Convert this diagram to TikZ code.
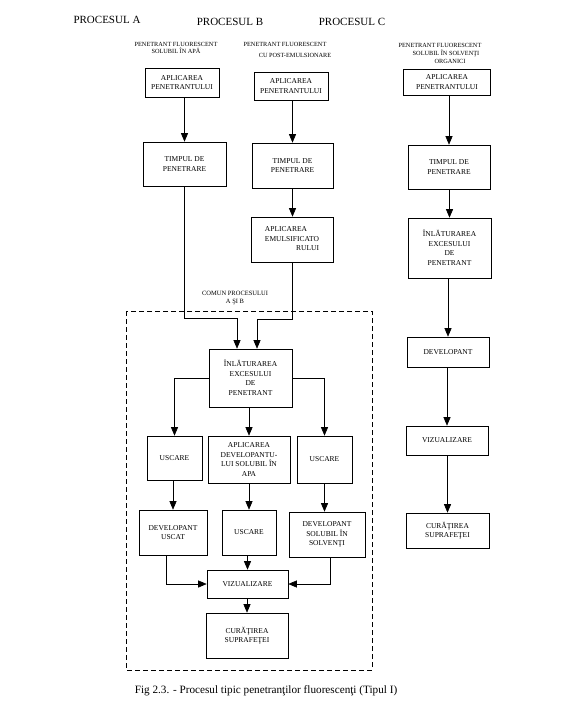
\documentclass[tikz,border=0pt]{standalone}
\usepackage{fontspec}
\setmainfont{Liberation Serif}
\usetikzlibrary{arrows.meta}
\begin{document}
\begin{tikzpicture}[x=1pt,y=-1pt,
  box/.style={draw,line width=0.6pt,align=center,inner sep=0pt,
    font=\fontsize{7.5}{9.5}\selectfont},
  sub/.style={inner sep=0pt,font=\fontsize{6.3}{7.5}\selectfont},
  ttl/.style={inner sep=0pt,font=\fontsize{11}{13}\selectfont},
  arr/.style={line width=0.6pt,-{Triangle[length=8.5pt,width=7pt]}},
  ln/.style={line width=0.6pt}]
\useasboundingbox (0,0) rectangle (574,714);
% titles
\node[ttl] (tA) at (107,20) {PROCESUL A};
\node[ttl] (tB) at (230,22) {PROCESUL B};
\node[ttl] (tC) at (352,22) {PROCESUL C};
% subtitles
\node[sub,align=center] (sA) at (176,48) {PENETRANT FLUORESCENT\\SOLUBIL ÎN APĂ};
\node[sub] (sB1) at (285,44) {PENETRANT FLUORESCENT};
\node[sub] (sB2) at (295,55) {CU POST-EMULSIONARE};
\node[sub] (sC1) at (440,45) {PENETRANT FLUORESCENT};
\node[sub] (sC2) at (446,53) {SOLUBIL ÎN SOLVENŢI};
\node[sub] (sC3) at (450,61) {ORGANICI};
% column A
\node[box,minimum width=74pt,minimum height=29pt] (A1) at (182,82.5) {APLICAREA\\PENETRANTULUI};
\node[box,minimum width=83pt,minimum height=44pt] (A2) at (184.5,164) {TIMPUL DE\\PENETRARE};
% column B
\node[box,minimum width=74pt,minimum height=28pt] (B1) at (291,86) {APLICAREA\\PENETRANTULUI};
\node[box,minimum width=81pt,minimum height=45pt] (B2) at (292.5,165.5) {TIMPUL DE\\PENETRARE};
\node[box,minimum width=82pt,minimum height=45pt] (B3) at (292,239.5)
  {\begin{tabular}{@{}l@{}}APLICAREA\\EMULSIFICATO\\\multicolumn{1}{@{}r@{}}{RULUI}\end{tabular}};
% common
\node[sub,align=center,font=\fontsize{6.5}{8.5}\selectfont] (com) at (235,298) {COMUN PROCESULUI\\A ŞI B};
\draw[ln,dashed,dash pattern=on 5pt off 3pt] (126,311) rectangle (372,670);
\node[box,minimum width=83pt,minimum height=58pt] (C1) at (250.5,378) {ÎNLĂTURAREA\\EXCESULUI\\DE\\PENETRANT};
\node[box,minimum width=55pt,minimum height=44pt] (L2) at (174.5,458) {USCARE};
\node[box,minimum width=82pt,minimum height=47pt] (M2) at (249,459.5) {APLICAREA\\DEVELOPANTU-\\LUI SOLUBIL ÎN\\APA};
\node[box,minimum width=55pt,minimum height=47pt] (R2c) at (324.5,459.5) {USCARE};
\node[box,minimum width=68pt,minimum height=45pt] (L3) at (173,532.5) {DEVELOPANT\\USCAT};
\node[box,minimum width=54pt,minimum height=45pt] (M3) at (249,532.5) {USCARE};
\node[box,minimum width=76pt,minimum height=45pt] (R3c) at (327,534.5) {DEVELOPANT\\SOLUBIL ÎN\\SOLVENŢI};
\node[box,minimum width=81pt,minimum height=28pt] (VIZ) at (247.5,584) {VIZUALIZARE};
\node[box,minimum width=82pt,minimum height=45pt] (CUR) at (247,635.5) {CURĂŢIREA\\SUPRAFEŢEI};
% column C
\node[box,minimum width=87pt,minimum height=26pt] (P1) at (447,82) {APLICAREA\\PENETRANTULUI};
\node[box,minimum width=82pt,minimum height=44pt] (P2) at (449,167) {TIMPUL DE\\PENETRARE};
\node[box,minimum width=83pt,minimum height=60pt] (P3) at (449.5,248) {ÎNLĂTURAREA\\EXCESULUI\\DE\\PENETRANT};
\node[box,minimum width=82pt,minimum height=30pt] (P4) at (448,352) {DEVELOPANT};
\node[box,minimum width=82pt,minimum height=29pt] (P5) at (447,440.5) {VIZUALIZARE};
\node[box,minimum width=83pt,minimum height=35pt] (P6) at (447.5,530.5) {CURĂŢIREA\\SUPRAFEŢEI};
% caption
\node[inner sep=0pt,font=\fontsize{11.2}{13}\selectfont] (cap) at (266,691)
  {Fig 2.3. - Procesul tipic penetranţilor fluorescenţi (Tipul I)};
% connectors A/B
\draw[arr] (A1.south -| A2.north) -- (A2.north);
\draw[arr] (B1.south -| B2.north) -- (B2.north);
\draw[arr] (B2.south) -- (B2.south |- B3.north);
\coordinate (jA) at (237,318);
\coordinate (jB) at (257,319);
\draw[arr] (A2.south) |- (jA) -- (jA |- C1.north);
\draw[arr] (B3.south) |- (jB) -- (jB |- C1.north);
\draw[arr] (C1.west) -| (L2.north);
\draw[arr] (C1.east) -| (R2c.north);
\draw[arr] (C1.south -| M2.north) -- (M2.north);
\draw[arr] (L2.south -| L3.north) -- (L3.north);
\draw[arr] (M2.south -| M3.north) -- (M3.north);
\draw[arr] (R2c.south) -- (R2c.south |- R3c.north);
\draw[arr] ([xshift=-7pt]L3.south) |- (VIZ.west);
\draw[arr] ([xshift=3pt]R3c.south) |- (VIZ.east);
\draw[arr] (M3.south -| VIZ.north) -- (VIZ.north);
\draw[arr] (VIZ.south -| CUR.north) -- (CUR.north);
% connectors C
\draw[arr] (P1.south -| P2.north) -- (P2.north);
\draw[arr] (P2.south -| P3.north) -- (P3.north);
\draw[arr] (P3.south -| P4.north) -- (P4.north);
\draw[arr] (P4.south -| P5.north) -- (P5.north);
\draw[arr] (P5.south -| P6.north) -- (P6.north);
\end{tikzpicture}
\end{document}
